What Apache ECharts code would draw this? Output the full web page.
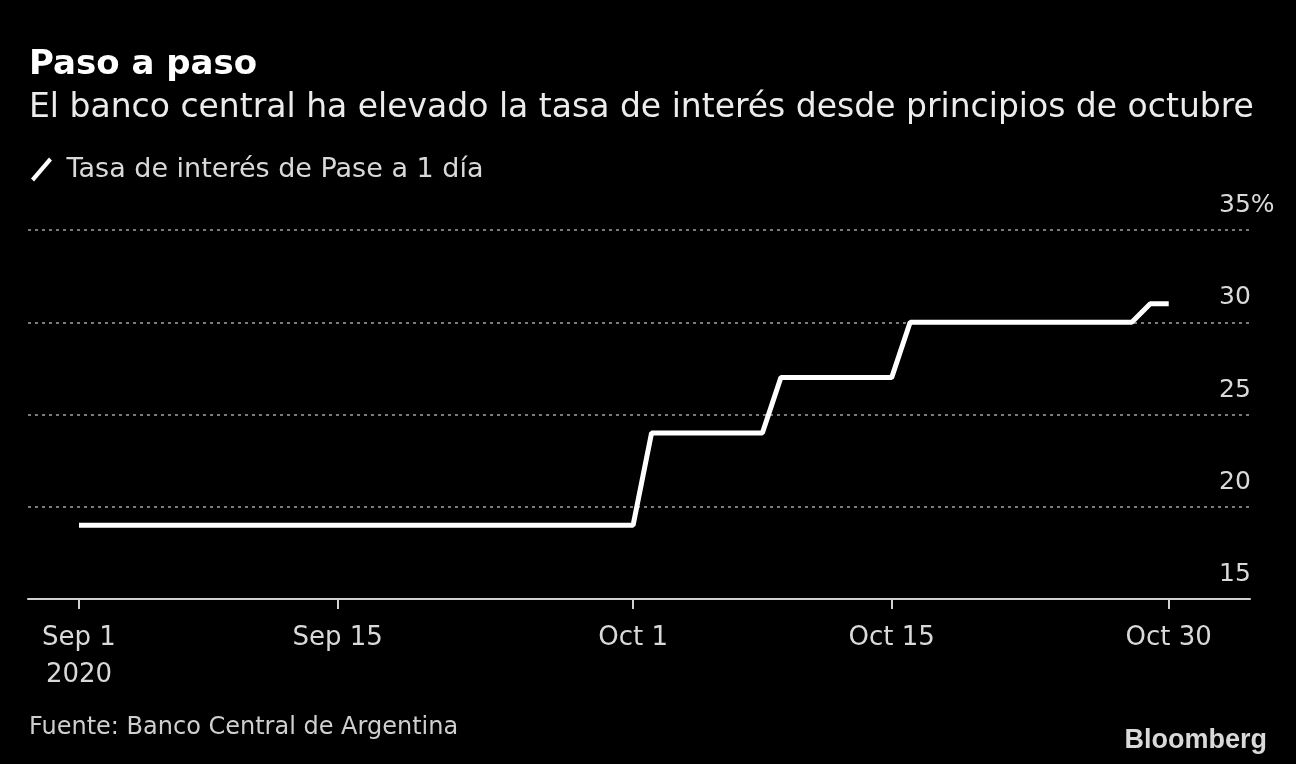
<!DOCTYPE html>
<html>
<head>
<meta charset="utf-8">
<script src="https://cdn.jsdelivr.net/npm/echarts@6/dist/echarts.min.js"></script>
<style>
  html, body { margin: 0; padding: 0; background: #000; }
  #chart { width: 1296px; height: 764px; }
</style>
</head>
<body>
<div id="chart"></div>
<script>
// daily values, day 0 = Sep 1 2020 .. day 59 = Oct 30 2020
const rateValues = [
  19, 19, 19, 19, 19, 19, 19, 19, 19, 19,
  19, 19, 19, 19, 19, 19, 19, 19, 19, 19,
  19, 19, 19, 19, 19, 19, 19, 19, 19, 19,
  19, 24, 24, 24, 24, 24, 24, 24, 27, 27,
  27, 27, 27, 27, 27, 30, 30, 30, 30, 30,
  30, 30, 30, 30, 30, 30, 30, 30, 31, 31
];
const tickDays = [0, 14, 30, 44, 59];
const tickLabels = ['Sep 1\n2020', 'Sep 15', 'Oct 1', 'Oct 15', 'Oct 30'];

const seriesData = rateValues.map((v, i) => [i, v]);

const font = 'DejaVu Sans';
const c = echarts.init(document.getElementById('chart'));
c.setOption({
  backgroundColor: '#000',
  animation: false,
  textStyle: { fontFamily: font },
  title: [
    {
      text: 'Paso a paso',
      subtext: 'El banco central ha elevado la tasa de interés desde principios de octubre',
      left: 24, top: 43, itemGap: 10,
      textStyle: { color: '#fff', fontSize: 34, fontWeight: 'bold', fontFamily: font },
      subtextStyle: { color: '#ececec', fontSize: 33, fontFamily: font }
    },
    {
      text: 'Fuente: Banco Central de Argentina',
      left: 24, top: 711,
      textStyle: { color: '#cfcfcf', fontSize: 24, fontWeight: 'normal', fontFamily: font }
    },
    {
      text: 'Bloomberg',
      right: 24, top: 722,
      textStyle: { color: '#d9d9d9', fontSize: 27, fontWeight: 'bold', fontFamily: 'Liberation Sans' }
    }
  ],
  legend: {
    left: 26, top: 151,
    itemWidth: 24, itemHeight: 24, itemGap: 10,
    icon: 'path://M0,21 L18,0 L21,3 L3,24 Z',
    textStyle: { color: '#d9d9d9', fontSize: 27, fontFamily: font, padding: [0, 0, 0, 8] },
    data: ['Tasa de interés de Pase a 1 día']
  },
  grid: { left: 28, right: 46, top: 230, bottom: 165 },
  xAxis: {
    type: 'value',
    min: -2.76,
    max: 63.4,
    axisLine: { lineStyle: { color: '#d0d0d0', width: 2 } },
    axisTick: { show: true, customValues: tickDays, length: 10, lineStyle: { color: '#d0d0d0', width: 2 } },
    axisLabel: {
      customValues: tickDays,
      color: '#d9d9d9', fontSize: 26, fontFamily: font, margin: 21, lineHeight: 37,
      formatter: v => tickLabels[tickDays.indexOf(v)] || ''
    },
    splitLine: { show: false }
  },
  yAxis: {
    type: 'value',
    position: 'right',
    min: 15, max: 35, interval: 5,
    axisLine: { show: false },
    axisTick: { show: false },
    axisLabel: {
      color: '#d9d9d9', fontSize: 25, fontFamily: font,
      align: 'left', verticalAlign: 'bottom', margin: -31, padding: [0, 0, 12, 0],
      formatter: v => v === 35 ? v + '%' : String(v)
    },
    splitLine: { lineStyle: { color: '#7a7a7a', type: [3, 4], width: 2 } }
  },
  series: [{
    name: 'Tasa de interés de Pase a 1 día',
    type: 'line',
    data: seriesData,
    showSymbol: false,
    lineStyle: { color: '#fff', width: 5 },
    itemStyle: { color: '#fff' }
  }]
});
</script>
</body>
</html>
